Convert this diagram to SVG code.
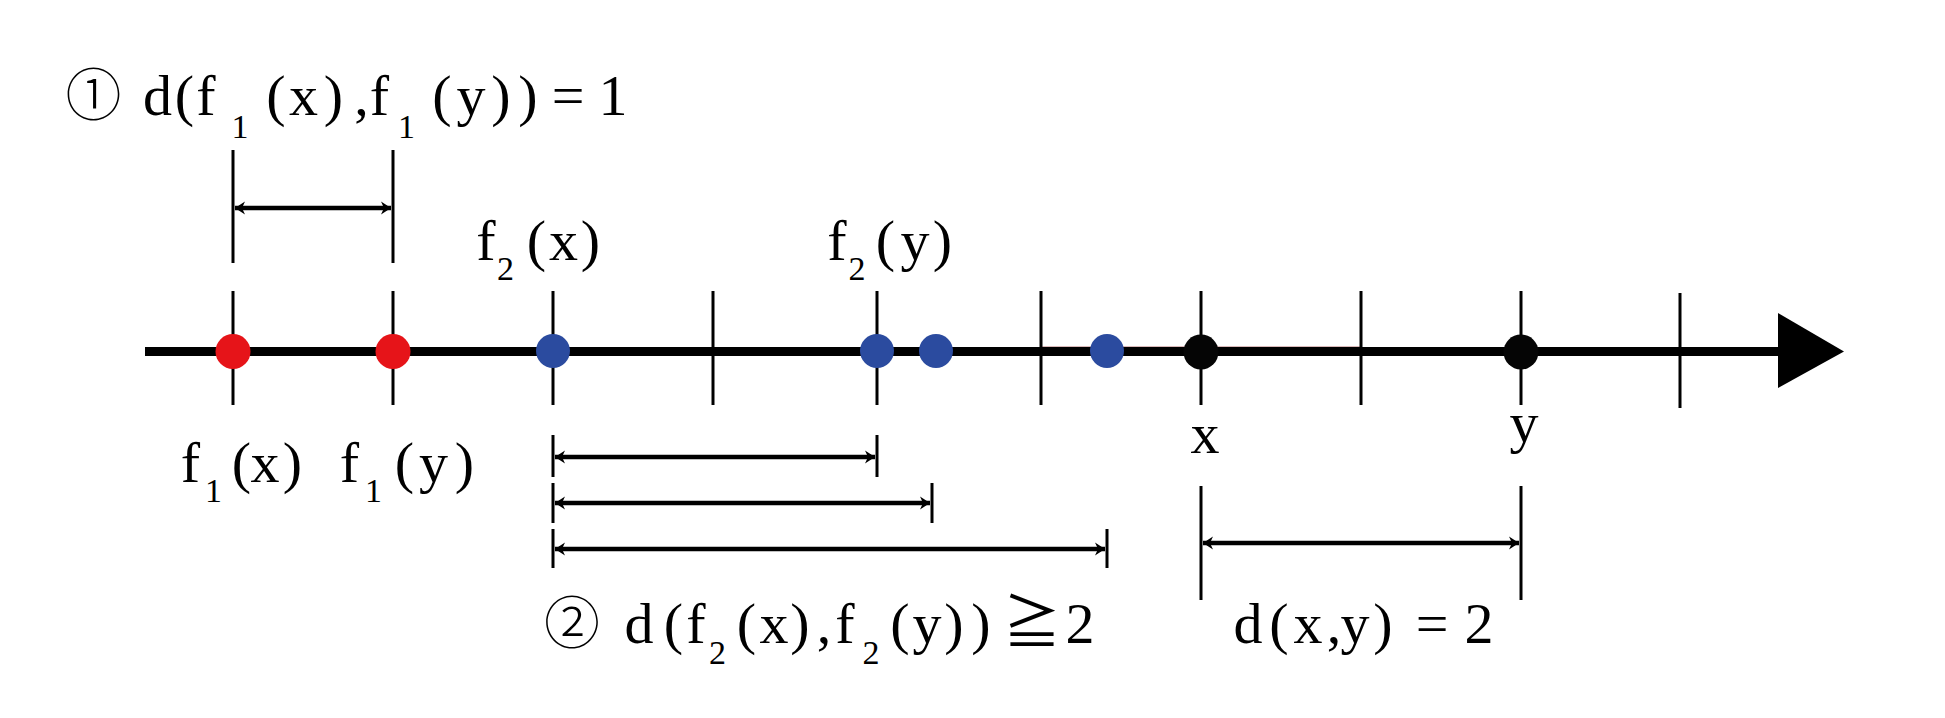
<svg xmlns="http://www.w3.org/2000/svg" width="1945" height="718" viewBox="0 0 1945 718">
  <style>
    .t { font-family: "Liberation Serif", "Noto Sans CJK JP", serif; font-size: 58px; fill: #000; text-anchor: middle; }
    .s { font-size: 34px; }
    .c { font-family: "Noto Sans CJK JP", "DejaVu Sans", sans-serif; font-size: 56px; font-weight: 300; }
    .tick { stroke: #000; stroke-width: 3; fill: none; }
    .dim { stroke: #000; stroke-width: 4.5; fill: none; marker-start: url(#ah); marker-end: url(#ah); }
  </style>
  <defs>
    <marker id="ah" markerUnits="userSpaceOnUse" markerWidth="14" markerHeight="16" viewBox="-12 -8 14 16" refX="0" refY="0" orient="auto-start-reverse">
      <path d="M0,0 L-10,-6.5 L-7,0 L-10,6.5 Z" fill="#000"/>
    </marker>
  </defs>
  <rect width="1945" height="718" fill="#fff"/>

  <g id="axis">
    <line x1="145" y1="351.5" x2="1782" y2="351.5" stroke="#000" stroke-width="9"/>
    <line x1="1041" y1="346.5" x2="1361" y2="346.5" stroke="#d9b9b9" stroke-width="1"/>
    <polygon points="1778,313 1844,351.5 1778,388" fill="#000"/>
    <g class="tick">
      <line x1="233" y1="291" x2="233" y2="405"/>
      <line x1="393" y1="291" x2="393" y2="405"/>
      <line x1="553" y1="291" x2="553" y2="405"/>
      <line x1="713" y1="291" x2="713" y2="405"/>
      <line x1="877" y1="291" x2="877" y2="405"/>
      <line x1="1041" y1="291" x2="1041" y2="405"/>
      <line x1="1201" y1="291" x2="1201" y2="405"/>
      <line x1="1361" y1="291" x2="1361" y2="405"/>
      <line x1="1521" y1="291" x2="1521" y2="405"/>
      <line x1="1680" y1="293" x2="1680" y2="408"/>
    </g>
  </g>

  <g id="points">
    <circle cx="233" cy="351.5" r="17.5" fill="#e61419"/>
    <circle cx="393" cy="351.5" r="17.5" fill="#e61419"/>
    <circle cx="553" cy="351" r="17" fill="#2b4b9f"/>
    <circle cx="877" cy="351" r="17" fill="#2b4b9f"/>
    <circle cx="936" cy="351" r="17" fill="#2b4b9f"/>
    <circle cx="1107" cy="351" r="17" fill="#2b4b9f"/>
    <circle cx="1201" cy="352" r="17.5" fill="#050505"/>
    <circle cx="1521" cy="352" r="17.5" fill="#050505"/>
  </g>

  <g id="connectors">
    <g class="tick">
      <line x1="233" y1="150" x2="233" y2="263"/>
      <line x1="393" y1="150" x2="393" y2="263"/>
      <line x1="553" y1="435" x2="553" y2="477"/>
      <line x1="553" y1="483" x2="553" y2="523"/>
      <line x1="553" y1="529" x2="553" y2="568"/>
      <line x1="877" y1="435" x2="877" y2="477"/>
      <line x1="932" y1="483" x2="932" y2="523"/>
      <line x1="1107" y1="529" x2="1107" y2="568"/>
      <line x1="1201" y1="486" x2="1201" y2="600"/>
      <line x1="1521" y1="486" x2="1521" y2="600"/>
    </g>
    <line class="dim" x1="235" y1="208" x2="391" y2="208"/>
    <line class="dim" x1="555" y1="457" x2="875" y2="457"/>
    <line class="dim" x1="555" y1="503" x2="930" y2="503"/>
    <line class="dim" x1="555" y1="549" x2="1105" y2="549"/>
    <line class="dim" x1="1203" y1="543" x2="1519" y2="543"/>
  </g>

  <g id="label-1">
    <text class="t"><tspan class="c" x="93.5" y="115">①</tspan><tspan x="157.5" y="115">d</tspan><tspan x="184.5" y="115">(</tspan><tspan x="206" y="115">f</tspan><tspan class="s" x="240" y="138">1</tspan><tspan x="276" y="115">(</tspan><tspan x="303.5" y="115">x</tspan><tspan x="333.5" y="115">)</tspan><tspan x="361.5" y="115">,</tspan><tspan x="379.5" y="115">f</tspan><tspan class="s" x="406.5" y="138">1</tspan><tspan x="442" y="115">(</tspan><tspan x="471" y="115">y</tspan><tspan x="501" y="115">)</tspan><tspan x="528" y="115">)</tspan><tspan x="568" y="115">=</tspan><tspan x="613" y="115">1</tspan></text>
  </g>

  <g id="label-f2x">
    <text class="t"><tspan x="486" y="260">f</tspan><tspan class="s" x="505.5" y="280">2</tspan><tspan x="536.5" y="260">(</tspan><tspan x="563.5" y="260">x</tspan><tspan x="590.5" y="260">)</tspan></text>
  </g>
  <g id="label-f2y">
    <text class="t"><tspan x="837" y="260">f</tspan><tspan class="s" x="857" y="280">2</tspan><tspan x="885.5" y="260">(</tspan><tspan x="915" y="260">y</tspan><tspan x="942.5" y="260">)</tspan></text>
  </g>

  <g id="label-f1x">
    <text class="t"><tspan x="190.5" y="482">f</tspan><tspan class="s" x="213.5" y="502">1</tspan><tspan x="241.5" y="482">(</tspan><tspan x="265" y="482">x</tspan><tspan x="292.5" y="482">)</tspan></text>
  </g>
  <g id="label-f1y">
    <text class="t"><tspan x="349.5" y="482">f</tspan><tspan class="s" x="373.5" y="502">1</tspan><tspan x="404.5" y="482">(</tspan><tspan x="433.5" y="482">y</tspan><tspan x="464.5" y="482">)</tspan></text>
  </g>

  <g id="label-x">
    <text class="t" x="1205" y="453">x</text>
  </g>
  <g id="label-y">
    <text class="t" x="1524" y="442">y</text>
  </g>

  <g id="label-2">
    <text class="t"><tspan class="c" x="572" y="643">②</tspan><tspan x="639" y="643">d</tspan><tspan x="673.5" y="643">(</tspan><tspan x="696" y="643">f</tspan><tspan class="s" x="717.5" y="664">2</tspan><tspan x="746.5" y="643">(</tspan><tspan x="774" y="643">x</tspan><tspan x="800" y="643">)</tspan><tspan x="824" y="643">,</tspan><tspan x="845" y="643">f</tspan><tspan class="s" x="871" y="664">2</tspan><tspan x="900" y="643">(</tspan><tspan x="927" y="643">y</tspan><tspan x="954" y="643">)</tspan><tspan x="981" y="643">)</tspan><tspan x="1032" y="643">≧</tspan><tspan x="1080" y="643">2</tspan></text>
  </g>

  <g id="label-dxy">
    <text class="t"><tspan x="1248" y="643">d</tspan><tspan x="1279" y="643">(</tspan><tspan x="1308" y="643">x</tspan><tspan x="1334" y="643">,</tspan><tspan x="1355" y="643">y</tspan><tspan x="1383" y="643">)</tspan><tspan x="1432" y="643">=</tspan><tspan x="1479" y="643">2</tspan></text>
  </g>
</svg>
